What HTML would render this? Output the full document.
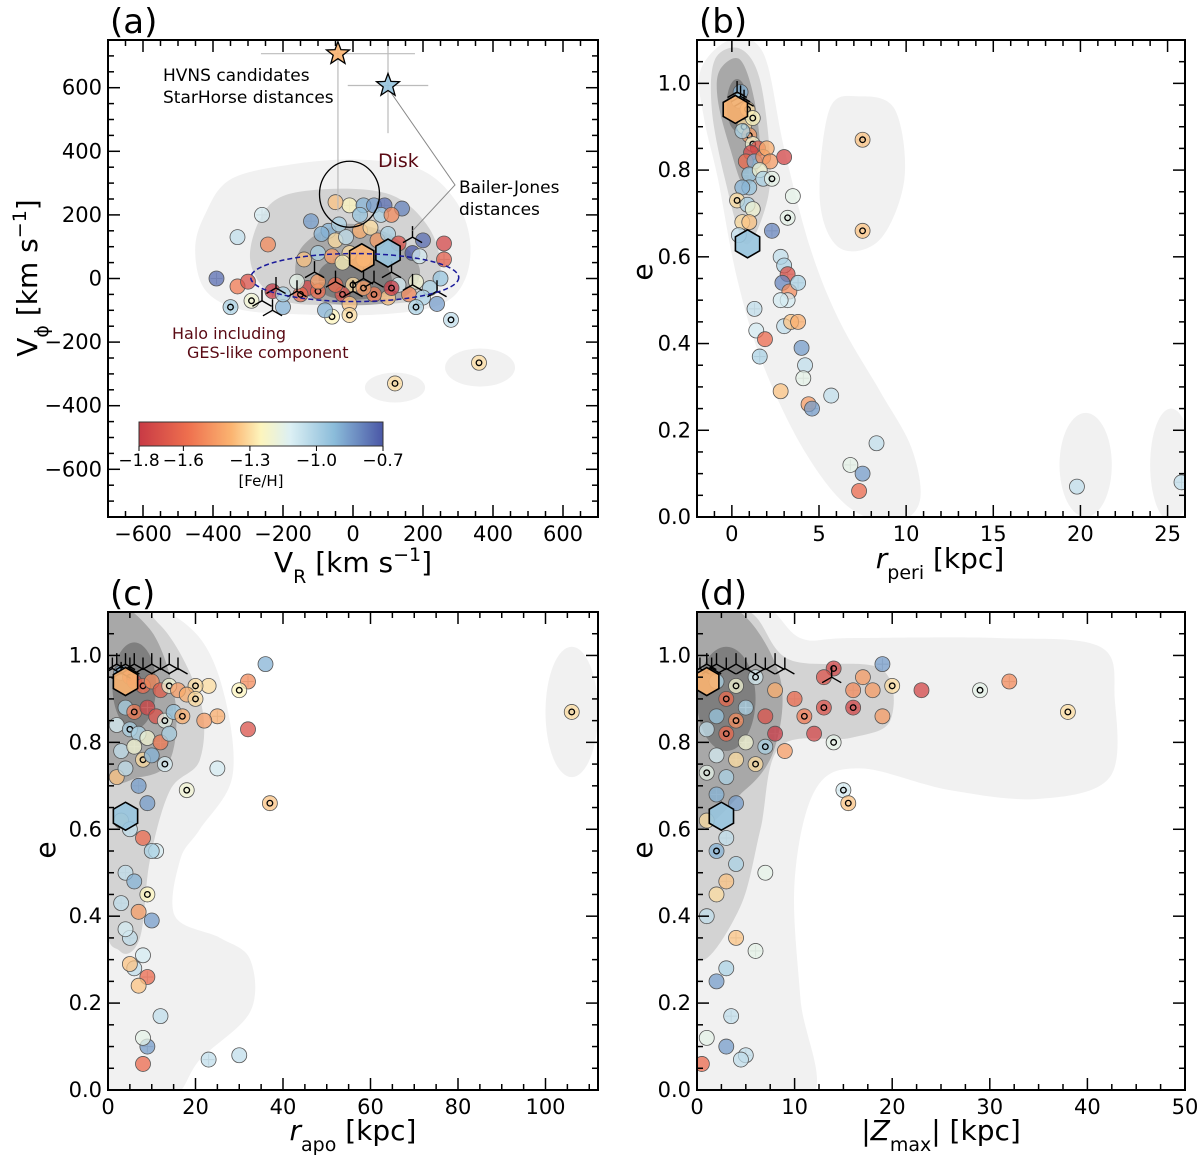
<!DOCTYPE html>
<html><head><meta charset="utf-8">
<style>
body{margin:0;background:#fff;}
svg{display:block;font-family:"DejaVu Sans","Liberation Sans",sans-serif;}
</style></head>
<body>
<svg id="fig" width="1200" height="1158" viewBox="0 0 1200 1158" xmlns="http://www.w3.org/2000/svg">
<defs>
<clipPath id="clipA"><rect x="108" y="40" width="490" height="477"/></clipPath>
<clipPath id="clipB"><rect x="697" y="40" width="488" height="477"/></clipPath>
<clipPath id="clipC"><rect x="108" y="612" width="490" height="478"/></clipPath>
<clipPath id="clipD"><rect x="697" y="612" width="488" height="478"/></clipPath>
<linearGradient id="cbgrad" x1="0" x2="1" y1="0" y2="0">
<stop offset="0" stop-color="#c83a45"/><stop offset="0.2" stop-color="#ee6f4e"/><stop offset="0.38" stop-color="#fbb471"/><stop offset="0.5" stop-color="#fdf5bd"/><stop offset="0.62" stop-color="#dcf0f4"/><stop offset="0.8" stop-color="#8bbcda"/><stop offset="1" stop-color="#4a57a6"/>
</linearGradient>
</defs>
<g id="root"></g>
</svg>
<script>
// ===== Panel (a) data: V_R, V_phi, [Fe/H], marker type =====
const aVR   = [-260,-330,-243,-390,-330,-300,-350,-290,-200,-230,-130,-150,-100,-60,0,-120,-70,-40,-10,30,60,90,140,-50,20,80,110,-90,-50,-20,20,50,70,100,130,170,190,200,-100,-60,-10,-30,30,-140,260,260,250,220,180,160,130,100,60,30,-30,-50,-10,110,200,240,180,-80,-200,-100,-160,280,120,360,-10];
const aVphi = [200,130,107,0,-25,-10,-90,-70,-90,-40,-30,-50,-40,-120,-20,180,150,170,230,230,230,230,220,240,200,200,200,140,120,130,150,160,120,140,110,80,70,120,80,70,80,50,60,60,110,60,0,-30,-10,-50,-20,-60,-50,-30,-50,-20,-80,-30,-60,-80,-90,-100,-50,-10,-10,-130,-330,-265,-115];
const aFeh  = [-1.1,-1.05,-1.5,-0.75,-1.55,-1.7,-1.0,-1.2,-0.9,-1.8,-1.75,-1.6,-1.6,-1.25,-1.3,-0.85,-0.9,-1.0,-1.25,-0.9,-0.85,-0.75,-0.8,-1.35,-0.95,-1.0,-1.5,-0.9,-1.3,-1.05,-1.4,-1.3,-1.45,-1.0,-1.7,-0.7,-1.1,-0.75,-1.0,-1.45,-1.3,-1.25,-1.35,-1.35,-1.75,-1.65,-0.95,-1.0,-1.2,-1.5,-1.1,-1.35,-1.55,-1.45,-1.7,-1.6,-1.35,-1.8,-1.0,-0.85,-1.0,-0.9,-1.0,-1.45,-1.15,-1.05,-1.3,-1.3,-1.3];
const aType = ["c","c","c","c","c","c","d","d","c","c","c","d","d","d","d","c","c","c","c","c","c","c","c","c","c","c","c","c","c","c","c","c","c","c","c","c","c","c","c","c","c","c","c","c","c","c","c","c","c","c","c","c","d","d","d","c","c","d","c","c","d","c","c","c","c","d","d","d","d"];
const aTriVR   = [-260,-220,-160,-110,-50,0,60,110,170,240,-230,30,170];
const aTriVphi = [-70,-30,-40,20,-10,-40,-10,20,-20,-40,-100,0,130];
const aHexVR = [25,100], aHexVphi = [65,80], aHexFeh = [-1.38,-0.95];
const aStarVR = [-43,100], aStarVphi = [707,607], aStarFeh = [-1.38,-0.95];
const aStarErrX = [220,115], aStarErrY = [160,150];
const aXTicks = [-600,-400,-200,0,200,400,600];
const aYTicks = [-600,-400,-200,0,200,400,600];

// ===== Panel (b) data: r_peri, e, [Fe/H], type =====
const bPeri = [0.5,0.4,0.7,1.0,1.2,1.5,1.1,0.8,1.3,1.8,2.0,2.2,1.0,1.6,1.8,2.3,1.0,0.6,0.3,0.9,1.2,0.6,1.0,0.4,2.3,3.0,3.5,3.2,2.8,3.0,3.2,2.9,3.3,3.8,3.2,2.8,1.3,3.0,3.4,3.8,1.4,1.9,1.6,4.0,4.2,4.1,2.8,4.4,4.6,5.7,8.3,6.8,7.5,7.3,7.5,7.5,19.8,25.8,0.6,0.9,1.2];
const bE    = [0.98,0.96,0.9,0.88,0.86,0.85,0.84,0.82,0.82,0.83,0.85,0.82,0.79,0.8,0.78,0.78,0.76,0.76,0.73,0.72,0.71,0.68,0.68,0.65,0.66,0.83,0.74,0.69,0.6,0.58,0.56,0.54,0.52,0.54,0.5,0.5,0.48,0.44,0.45,0.45,0.43,0.41,0.37,0.39,0.35,0.32,0.29,0.26,0.25,0.28,0.17,0.12,0.1,0.06,0.87,0.66,0.07,0.08,0.89,0.94,0.92];
const bFeh  = [-0.9,-1.0,-1.3,-1.45,-1.2,-1.7,-1.75,-1.6,-0.9,-1.5,-1.4,-1.45,-0.95,-1.2,-1.0,-1.15,-0.95,-0.9,-1.3,-1.0,-1.2,-1.3,-1.35,-1.05,-0.8,-1.75,-1.15,-1.15,-1.05,-1.0,-1.7,-0.8,-1.5,-1.0,-1.1,-1.1,-1.05,-1.05,-1.35,-1.4,-1.1,-1.6,-1.0,-0.85,-1.05,-1.15,-1.35,-1.45,-0.85,-1.05,-1.05,-1.15,-0.85,-1.6,-1.35,-1.35,-1.05,-1.05,-1.0,-1.3,-1.25];
const bType = ["c","c","d","d","d","c","c","c","c","c","c","c","c","c","c","d","c","c","d","c","c","c","c","c","c","c","c","d","c","c","c","c","c","c","c","c","c","c","c","c","c","c","c","c","c","c","c","c","c","c","c","c","c","c","d","d","c","c","c","d","d"];
const bTriPeri = [0.3,0.5,0.7], bTriE = [0.98,0.97,0.96];
const bHexPeri = [0.2,0.9], bHexE = [0.94,0.63], bHexFeh = [-1.38,-0.95];
const bXTicks = [0,5,10,15,20,25];
const bYTicks = [0,0.2,0.4,0.6,0.8,1.0];

// ===== Panel (c) data: r_apo, e =====
const cApo = [106,37,36,32,32,30,25,25,23,20,22,18,23,30,12,9,8,8,3,5,6,8,10,12,14,16,18,20,4,6,9,11,13,15,17,2,5,7,9,12,14,3,6,8,10,13,2,4,7,9,3,5,8,11,4,6,9,3,7,10,5,8,6,9,7,5,10,4];
const cE   = [0.87,0.66,0.98,0.94,0.83,0.92,0.86,0.74,0.93,0.93,0.85,0.69,0.07,0.08,0.17,0.1,0.12,0.06,0.96,0.95,0.94,0.93,0.94,0.92,0.93,0.92,0.91,0.9,0.88,0.87,0.88,0.86,0.85,0.87,0.86,0.84,0.83,0.82,0.81,0.8,0.82,0.78,0.79,0.76,0.77,0.75,0.72,0.74,0.7,0.66,0.62,0.6,0.58,0.55,0.5,0.48,0.45,0.43,0.41,0.39,0.35,0.31,0.28,0.26,0.24,0.29,0.55,0.37];
const cFeh = [-1.3,-1.35,-0.9,-1.5,-1.7,-1.25,-1.4,-1.1,-1.3,-1.3,-1.45,-1.2,-1.05,-1.05,-1.05,-0.85,-1.15,-1.6,-0.9,-1.7,-1.75,-1.6,-1.5,-1.65,-1.2,-1.45,-1.4,-1.3,-1.0,-1.55,-1.75,-1.7,-1.15,-0.95,-1.4,-1.1,-1.0,-1.0,-1.2,-1.55,-1.0,-1.05,-1.2,-1.3,-0.9,-1.1,-1.35,-1.05,-0.85,-0.85,-1.3,-1.05,-1.6,-1.1,-1.05,-0.9,-1.25,-1.05,-1.45,-0.85,-1.05,-1.1,-1.05,-1.6,-1.35,-1.35,-1.0,-1.1];
const cType = ["d","d","c","c","c","d","c","c","c","d","c","d","c","c","c","c","c","c","c","d","c","d","c","c","d","c","c","d","c","d","c","c","d","c","d","c","d","c","c","c","c","c","c","d","c","d","c","c","c","c","c","c","c","c","c","c","d","c","c","c","c","c","c","c","c","c","c","c"];
const cTriApo = [1,2,3,4,5,6,8,10,12,14,16], cTriE = [0.97,0.98,0.96,0.98,0.97,0.98,0.97,0.98,0.97,0.98,0.97];
const cHexApo = [4,4], cHexE = [0.94,0.63], cHexFeh = [-1.38,-0.95];
const cXTicks = [0,20,40,60,80,100];
const cYTicks = [0,0.2,0.4,0.6,0.8,1.0];

// ===== Panel (d) data: |Z_max|, e =====
const dZ   = [14,13,17,19,23,20,16,18,29,32,38,19,10,11,13,16,12,14,8,9,6,15,15.5,7,6,1,0.5,5,4.5,3,3.5,2,4,6,8,3,5,7,2,4,1,3,5,7,2,4,1,3,2,4,1,3,2,4,3,2,1,4,3,2];
const dE   = [0.97,0.95,0.95,0.98,0.92,0.93,0.92,0.92,0.92,0.94,0.87,0.86,0.9,0.86,0.88,0.88,0.82,0.8,0.82,0.78,0.75,0.69,0.66,0.5,0.32,0.12,0.06,0.08,0.07,0.1,0.17,0.94,0.93,0.95,0.92,0.9,0.88,0.86,0.86,0.85,0.83,0.82,0.8,0.79,0.77,0.76,0.73,0.72,0.68,0.66,0.62,0.58,0.55,0.52,0.48,0.45,0.4,0.35,0.28,0.25];
const dFeh = [-1.75,-1.7,-1.45,-0.85,-1.75,-1.3,-1.5,-1.45,-1.15,-1.5,-1.3,-1.45,-1.6,-1.55,-1.7,-1.75,-1.75,-1.15,-1.8,-1.45,-1.3,-1.1,-1.35,-1.15,-1.15,-1.15,-1.6,-1.05,-1.05,-0.85,-1.05,-1.0,-1.2,-1.1,-1.4,-1.6,-1.0,-1.7,-0.95,-1.5,-1.05,-1.6,-1.2,-1.0,-1.1,-1.3,-1.15,-1.0,-0.9,-0.85,-1.3,-1.05,-0.9,-1.0,-1.35,-1.3,-1.05,-1.35,-1.0,-0.85];
const dType = ["d","c","c","c","c","d","c","c","d","c","d","c","c","d","d","d","c","d","c","c","d","d","d","c","c","c","c","c","c","c","c","c","d","d","c","d","c","c","c","d","c","d","c","d","c","c","d","c","c","c","c","c","d","c","c","c","c","c","c","c"];
const dTriZ = [0.3,1,1.5,2,3,4,5,6,7,8,9,13.8], dTriE = [0.97,0.98,0.97,0.98,0.97,0.98,0.97,0.98,0.97,0.98,0.97,0.95];
const dHexZ = [1,2.5], dHexE = [0.94,0.63], dHexFeh = [-1.38,-0.95];
const dXTicks = [0,10,20,30,40,50];
const dYTicks = [0,0.2,0.4,0.6,0.8,1.0];

const NS = "http://www.w3.org/2000/svg";
const root = document.getElementById('root');
function el(tag, attrs, parent){ const e=document.createElementNS(NS,tag); for(const k in attrs) e.setAttribute(k,attrs[k]); (parent||root).appendChild(e); return e; }

const cmapStops = [[-1.8,[200,58,69]],[-1.58,[238,111,78]],[-1.38,[251,180,113]],[-1.25,[253,245,189]],[-1.12,[220,240,244]],[-0.92,[139,188,218]],[-0.7,[74,87,166]]];
function cmap(v){ v=Math.max(-1.8,Math.min(-0.7,v));
  for(let i=0;i<cmapStops.length-1;i++){const a=cmapStops[i],b=cmapStops[i+1]; if(v<=b[0]){const t=(v-a[0])/(b[0]-a[0]); const c=a[1].map((x,j)=>Math.round(x+(b[1][j]-x)*t)); return `rgb(${c})`;}}
  return 'rgb(74,87,166)'; }

function smoothPath(pts){ const n=pts.length; let d=`M${pts[0][0]},${pts[0][1]}`;
  for(let i=0;i<n;i++){const p0=pts[(i-1+n)%n],p1=pts[i],p2=pts[(i+1)%n],p3=pts[(i+2)%n];
    const c1=[p1[0]+(p2[0]-p0[0])/6,p1[1]+(p2[1]-p0[1])/6],c2=[p2[0]-(p3[0]-p1[0])/6,p2[1]-(p3[1]-p1[1])/6];
    d+=`C${c1[0]},${c1[1]} ${c2[0]},${c2[1]} ${p2[0]},${p2[1]}`;}
  return d+'Z'; }

function panel(cfg){
  const {L,R,T,B,x0,x1,y0,y1}=cfg;
  const sx=v=>L+(v-x0)/(x1-x0)*(R-L), sy=v=>B-(v-y0)/(y1-y0)*(B-T);
  const g=el('g',{});
  
  
  const cg=el('g',{'clip-path':`url(#${cfg.clip})`},g);
  
  
  const fills=['#f1f1f1','#d3d3d3','#a8a8a8','#7f7f7f'];
  cfg.contours.forEach(c=>{
    let d;
    if(c.ell){ const [cx,cy,rx,ry]=c.ell; d=`M${sx(cx-rx)},${sy(cy)}A${sx(cx+rx)-sx(cx)},${sy(cy)-sy(cy+ry)} 0 1 0 ${sx(cx+rx)},${sy(cy)}A${sx(cx+rx)-sx(cx)},${sy(cy)-sy(cy+ry)} 0 1 0 ${sx(cx-rx)},${sy(cy)}Z`; }
    else d=smoothPath(c.pts.map(p=>[sx(p[0]),sy(p[1])]));
    const p=el('path',{d:d,fill:fills[c.lvl]},cg);
    
    
  });
  const mg=el('g',{'clip-path':`url(#${cfg.clip})`},g);
  cfg.xs.forEach((x,i)=>{ if(i%3===0){ const ex=(x1-x0)*0.012, ey=(y1-y0)*0.012;
    el('line',{x1:sx(x-ex),x2:sx(x+ex),y1:sy(cfg.ys[i]),y2:sy(cfg.ys[i]),stroke:'#bbb','stroke-width':1},mg);
    el('line',{x1:sx(x),x2:sx(x),y1:sy(cfg.ys[i]-ey),y2:sy(cfg.ys[i]+ey),stroke:'#bbb','stroke-width':1},mg);} });
  cfg.xs.forEach((x,i)=>{
    const cx=sx(x),cy=sy(cfg.ys[i]);
    const c=el('circle',{cx:cx,cy:cy,r:7.5,fill:cmap(cfg.feh[i]),'fill-opacity':0.75,stroke:'#555','stroke-width':0.8},mg);
    
    
    if(cfg.type[i]==='d') el('circle',{cx:cx,cy:cy,r:2.8,fill:'none',stroke:'#000','stroke-width':1.3},mg);
  });
  cfg.triX.forEach((x,i)=>{ const cx=sx(x),cy=sy(cfg.triY[i]),l=11;
    const t=el('path',{d:`M${cx},${cy}L${cx},${cy-l}M${cx},${cy}L${cx-l*0.87},${cy+l*0.5}M${cx},${cy}L${cx+l*0.87},${cy+l*0.5}`,stroke:'#000','stroke-width':1.4,fill:'none'},mg);
    
    
  });
  cfg.hexX.forEach((x,i)=>{ const cx=sx(x),cy=sy(cfg.hexY[i]),r=14; let pts=[];
    for(let k=0;k<6;k++){const a=Math.PI/6+k*Math.PI/3; pts.push(`${cx+r*Math.cos(a)},${cy+r*Math.sin(a)}`);}
    const h=el('polygon',{points:pts.join(' '),fill:cmap(cfg.hexF[i]),'fill-opacity':0.9,stroke:'#000','stroke-width':1.6},mg);
    
    
  });
  if(cfg.extra) cfg.extra(sx,sy,mg);
  el('rect',{x:L,y:T,width:R-L,height:B-T,fill:'none',stroke:'#000','stroke-width':2},g);
  const tk=el('g',{stroke:'#000'},g);
  const minorX=cfg.minX, minorY=cfg.minY;
  for(let v=Math.ceil(x0/minorX)*minorX; v<=x1+1e-9; v+=minorX){ const X=sx(v);
    const major=cfg.xt.some(t=>Math.abs(t-v)<1e-9); const len=major?12:6;
    el('line',{x1:X,x2:X,y1:B,y2:B-len,'stroke-width':1.5},tk); el('line',{x1:X,x2:X,y1:T,y2:T+len,'stroke-width':1.5},tk);}
  for(let v=Math.ceil(y0/minorY-1e-9)*minorY; v<=y1+1e-9; v+=minorY){ const Y=sy(v);
    const major=cfg.yt.some(t=>Math.abs(t-v)<1e-9); const len=major?12:6;
    el('line',{x1:L,x2:L+len,y1:Y,y2:Y,'stroke-width':1.5},tk); el('line',{x1:R,x2:R-len,y1:Y,y2:Y,'stroke-width':1.5},tk);}
  cfg.xt.forEach(v=>{ const t=el('text',{x:sx(v),y:B+24,'font-size':21,'text-anchor':'middle'},g); t.textContent=cfg.fmtX(v);
     });
  cfg.yt.forEach(v=>{ const t=el('text',{x:L-6,y:sy(v)+7,'font-size':21,'text-anchor':'end'},g); t.textContent=cfg.fmtY(v);
     });
  const pl=el('text',{x:L+2,y:T-7,'font-size':34},g); pl.textContent=cfg.label;
   
  return {sx,sy,g};
}
const fm=v=>(v<0?'\u2212':'')+Math.abs(v);
const f1=v=>v.toFixed(1);

panel({name:'panel-a',clip:'clipA',L:108,R:598,T:40,B:517,x0:-700,x1:700,y0:-750,y1:750,minX:50,minY:50,xt:aXTicks,yt:aYTicks,fmtX:fm,fmtY:fm,label:'(a)',
 xs:aVR,ys:aVphi,feh:aFeh,type:aType,triX:aTriVR,triY:aTriVphi,hexX:aHexVR,hexY:aHexVphi,hexF:aHexFeh,
 contours:[
  {lvl:0,pts:[[-423,201],[-351,311],[-180,358],[20,374],[191,343],[291,248],[334,123],[320,-3],[249,-82],[77,-113],[-151,-113],[-323,-97],[-423,-35],[-451,91]]},
  {lvl:0,ell:[120,-343,86,47]},{lvl:0,ell:[363,-280,100,60]},
  {lvl:1,pts:[[-237,233],[-94,280],[106,264],[220,154],[249,13],[191,-66],[-9,-82],[-209,-66],[-294,60]]},
  {lvl:2,pts:[[-151,91],[-37,170],[106,138],[191,28],[134,-66],[-37,-82],[-151,-35]]},
  {lvl:3,pts:[[-94,28],[-9,75],[91,44],[106,-35],[20,-66],[-80,-50]]}],
 extra:(sx,sy,g)=>{
  aStarVR.forEach((x,i)=>{ const y=aStarVphi[i];
    el('line',{x1:sx(x-aStarErrX[i]),x2:sx(x+aStarErrX[i]),y1:sy(y),y2:sy(y),stroke:'#bbb','stroke-width':1.2},g);
    el('line',{x1:sx(x),x2:sx(x),y1:sy(y-aStarErrY[i]*(i?1:3.1)),y2:sy(y+aStarErrY[i]),stroke:'#bbb','stroke-width':1.2},g);});
  el('ellipse',{cx:sx(-10),cy:sy(265),rx:30,ry:33,fill:'none',stroke:'#000','stroke-width':1.3},g);
  el('ellipse',{cx:sx(5),cy:sy(3),rx:104,ry:24,fill:'none',stroke:'#1a1a9a','stroke-width':1.5,'stroke-dasharray':'5,3'},g);
  el('polyline',{points:`${sx(105)},${sy(590)} 455,185 ${sx(170)},${sy(150)}`,fill:'none',stroke:'#888','stroke-width':1},g);
  aStarVR.forEach((x,i)=>{ const cx=sx(x),cy=sy(aStarVphi[i]),R=12,r=5; let p=[];
    for(let k=0;k<10;k++){const a=-Math.PI/2+k*Math.PI/5,rr=k%2?r:R; p.push(`${cx+rr*Math.cos(a)},${cy+rr*Math.sin(a)}`);}
    const s=el('polygon',{points:p.join(' '),fill:cmap(aStarFeh[i]),'fill-opacity':0.9,stroke:'#000','stroke-width':1.3},g);
     });
 }});

panel({name:'panel-b',clip:'clipB',L:697,R:1185,T:40,B:517,x0:-2,x1:26,y0:0,y1:1.1,minX:1,minY:0.05,xt:bXTicks,yt:bYTicks,fmtX:fm,fmtY:f1,label:'(b)',
 xs:bPeri,ys:bE,feh:bFeh,type:bType,triX:bTriPeri,triY:bTriE,hexX:bHexPeri,hexY:bHexE,hexF:bHexFeh,
 contours:[
  {lvl:0,pts:[[-1.8,1.03],[-0.1,1.1],[1.8,1.07],[3.0,0.85],[4.5,0.62],[6.2,0.45],[8.5,0.29],[10.3,0.16],[10.8,0.04],[9.5,-0.01],[6.8,0.02],[4.2,0.15],[1.8,0.35],[0.3,0.55],[-0.8,0.78],[-1.6,0.92]]},
  {lvl:0,pts:[[5.6,0.94],[7.3,0.97],[9.35,0.94],[9.9,0.78],[8.5,0.64],[6.2,0.62],[5.05,0.73]]},
  {lvl:0,ell:[20.3,0.12,1.5,0.12]},{lvl:0,ell:[25.2,0.12,1.2,0.13]},
  {lvl:1,pts:[[-0.97,1.055],[0.46,1.08],[1.6,1.01],[2.2,0.82],[1.9,0.71],[0.75,0.63],[-0.4,0.78],[-1.15,0.94]]},
  {lvl:2,pts:[[-0.7,1.03],[0.46,1.055],[1.3,0.96],[1.6,0.82],[0.75,0.76],[-0.1,0.85],[-0.8,0.96]]},
  {lvl:3,ell:[0.3,0.95,0.6,0.06]}]});

panel({name:'panel-c',clip:'clipC',L:108,R:598,T:612,B:1090,x0:0,x1:112,y0:0,y1:1.1,minX:5,minY:0.05,xt:cXTicks,yt:cYTicks,fmtX:fm,fmtY:f1,label:'(c)',
 xs:cApo,ys:cE,feh:cFeh,type:cType,triX:cTriApo,triY:cTriE,hexX:cHexApo,hexY:cHexE,hexF:cHexFeh,
 contours:[
  {lvl:0,pts:[[0,1.12],[9.6,1.12],[21,1.04],[26.8,0.9],[28.4,0.72],[21,0.6],[16.5,0.53],[15.3,0.4],[25.6,0.35],[32.5,0.3],[32.5,0.18],[21,0.07],[14.2,-0.02],[-2,-0.02],[-2,1.12]]},
  {lvl:0,ell:[106,0.87,6,0.15]},
  {lvl:1,pts:[[-1,1.12],[11.9,1.07],[21,0.9],[21,0.76],[14.2,0.69],[9.6,0.53],[7.3,0.35],[2.7,0.32],[-1,0.44]]},
  {lvl:2,pts:[[-1,1.1],[9.6,1.06],[15.3,0.9],[14.2,0.76],[7.3,0.72],[-1,0.74]]},
  {lvl:3,ell:[6,0.93,5,0.1]}]});

panel({name:'panel-d',clip:'clipD',L:697,R:1185,T:612,B:1090,x0:0,x1:50,y0:0,y1:1.1,minX:2.5,minY:0.05,xt:dXTicks,yt:dYTicks,fmtX:fm,fmtY:f1,label:'(d)',
 xs:dZ,ys:dE,feh:dFeh,type:dType,triX:dTriZ,triY:dTriE,hexX:dHexZ,hexY:dHexE,hexF:dHexFeh,
 contours:[
  {lvl:0,pts:[[-1,1.12],[6.5,1.12],[10.6,1.04],[15.7,1.04],[31,1.04],[41.3,1.02],[42.8,0.9],[42.3,0.72],[35.1,0.67],[25.9,0.69],[16.7,0.74],[12.1,0.69],[10,0.48],[10.6,0.21],[11.6,-0.02],[-1,-0.02]]},
  {lvl:1,pts:[[-1,1.12],[5.4,1.1],[9.5,0.99],[18.8,0.97],[19.8,0.85],[15.7,0.81],[8.5,0.79],[6.5,0.6],[4.4,0.42],[0.3,0.3],[-1,0.5]]},
  {lvl:2,pts:[[-1,1.1],[4.4,1.1],[8.5,0.95],[8,0.79],[4.9,0.69],[-1,0.62]]},
  {lvl:3,ell:[3,0.9,3,0.12]}]});

function txt(x,y,s,size,attrs,name){ const t=el('text',Object.assign({x:x,y:y,'font-size':size},attrs||{})); t.innerHTML=s;
    return t; }
txt(353,572,'V<tspan baseline-shift="sub" font-size="19">R</tspan> [km s<tspan baseline-shift="super" font-size="19">\u22121</tspan>]',28,{'text-anchor':'middle'},'x-axis-title-a');
txt(37,278,'V<tspan baseline-shift="sub" font-size="19">\u03d5</tspan> [km s<tspan baseline-shift="super" font-size="19">\u22121</tspan>]',28,{'text-anchor':'middle',transform:'rotate(-90 37 278)'},'y-axis-title-a');
txt(940,568,'<tspan font-style="italic">r</tspan><tspan baseline-shift="sub" font-size="19">peri</tspan> [kpc]',28,{'text-anchor':'middle'},'x-axis-title-b');
txt(652,272,'e',28,{'text-anchor':'middle',transform:'rotate(-90 652 272)'},'y-axis-title-b');
txt(353,1140,'<tspan font-style="italic">r</tspan><tspan baseline-shift="sub" font-size="19">apo</tspan> [kpc]',28,{'text-anchor':'middle'},'x-axis-title-c');
txt(55,850,'e',28,{'text-anchor':'middle',transform:'rotate(-90 55 850)'},'y-axis-title-c');
txt(941,1140,'|<tspan font-style="italic">Z</tspan><tspan baseline-shift="sub" font-size="19">max</tspan>| [kpc]',28,{'text-anchor':'middle'},'x-axis-title-d');
txt(652,850,'e',28,{'text-anchor':'middle',transform:'rotate(-90 652 850)'},'y-axis-title-d');
txt(163,81,'HVNS candidates',17,{},'annotation-hvns');
txt(163,103,'StarHorse distances',17,{},'annotation-starhorse');
txt(378,167,'Disk',19,{fill:'#5a0a14'},'annotation-disk');
txt(459,193,'Bailer-Jones',17,{},'annotation-bailer-jones');
txt(459,215,'distances',17,{},'annotation-distances');
txt(172,339,'Halo including',16,{fill:'#5a0a14'},'annotation-halo');
txt(187,358,'GES-like component',16,{fill:'#5a0a14'},'annotation-ges');

const cbTicks=[-1.8,-1.6,-1.3,-1.0,-0.7];
const cbx=v=>139+(v+1.8)/1.1*244;
const cb=el('rect',{x:139,y:422,width:244,height:24,fill:'url(#cbgrad)',stroke:'#333','stroke-width':1});
 
cbTicks.forEach(v=>{ el('line',{x1:cbx(v),x2:cbx(v),y1:446,y2:451,stroke:'#000','stroke-width':1});
  txt(cbx(v),466,(v<0?'\u2212':'')+Math.abs(v).toFixed(1),17,{'text-anchor':'middle'},'colorbar-tick-label');});
txt(261,486,'[Fe/H]',15,{'text-anchor':'middle'},'colorbar-title');
</script>
</body></html>
